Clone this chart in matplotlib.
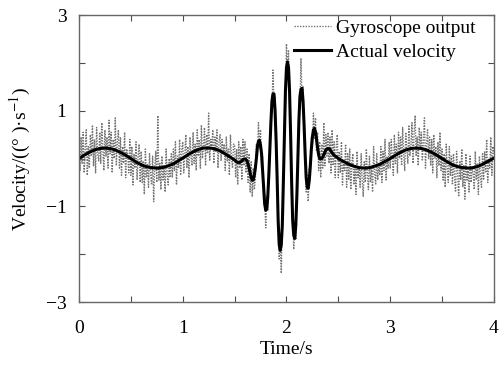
import numpy as np
import matplotlib.pyplot as plt

plt.rcParams['font.family'] = ['Liberation Serif', 'DejaVu Serif']
plt.rcParams['mathtext.fontset'] = 'stix'

# actual velocity: 0-1.5 s every 0.05 s, 1.51-2.50 s every 0.01 s, 2.55-4.0 s every 0.05 s
act_head = [0.00, 0.07, 0.13, 0.18, 0.21, 0.22, 0.21, 0.18, 0.13, 0.07,
            0.00, -0.07, -0.13, -0.17, -0.19, -0.20, -0.19, -0.16, -0.12, -0.06,
            0.01, 0.08, 0.14, 0.19, 0.22, 0.22, 0.21, 0.17, 0.11, 0.04, -0.03]
act_burst = [-0.05, -0.07, -0.08, -0.08, -0.08, -0.07, -0.05, -0.02, -0.01,
             -0.01, -0.02, -0.05, -0.12, -0.20, -0.30, -0.40, -0.45, -0.45, -0.35,
             -0.20, 0.00, 0.25, 0.36, 0.38, 0.28, 0.10, -0.25, -0.60, -0.95,
             -1.08, -1.05, -0.80, -0.35, 0.20, 0.75, 1.20, 1.35, 1.35, 1.00,
             0.40, -0.40, -1.30, -1.80, -1.92, -1.80, -1.40, -0.50, 0.50, 1.40,
             1.90, 2.02, 1.90, 1.40, 0.50, -0.50, -1.30, -1.60, -1.67, -1.40,
             -0.80, 0.00, 0.80, 1.30, 1.45, 1.47, 1.20, 0.70, 0.10, -0.40,
             -0.60, -0.62, -0.45, -0.15, 0.20, 0.45, 0.60, 0.63, 0.55, 0.40,
             0.22, 0.08, 0.00, -0.01, 0.00, 0.03, 0.08, 0.13, 0.18, 0.20,
             0.21, 0.21, 0.19, 0.15, 0.12, 0.09, 0.07, 0.05, 0.04, 0.02, 0.00]
act_tail = [-0.06, -0.12, -0.16, -0.19, -0.20, -0.19, -0.16, -0.12, -0.06,
            0.00, 0.07, 0.13, 0.18, 0.21, 0.22, 0.21, 0.18, 0.13, 0.07,
            0.00, -0.07, -0.13, -0.17, -0.19, -0.20, -0.19, -0.16, -0.11, -0.05, 0.01]

# gyroscope output, every 0.01 s from 0 to 4 s (one row = 0.1 s)
gyro = [
    0.30, -0.25, 0.45, -0.10, 0.55, -0.30, 0.20, 0.60, -0.35, 0.25,
    -0.20, 0.50, 0.05, 0.70, -0.15, 0.40, -0.30, 0.65, 0.10, -0.05,
    0.55, -0.10, 0.75, 0.20, -0.25, 0.60, 0.05, 0.45, -0.20, 0.80,
    0.10, 0.55, -0.30, 0.40, 0.00, 0.85, -0.15, 0.35, 0.60, -0.20,
    0.45, -0.35, 0.25, -0.10, 0.55, -0.40, 0.20, 0.05, -0.30, 0.40,
    -0.35, 0.25, -0.55, 0.10, -0.20, 0.35, -0.45, 0.05, 0.30, -0.50,
    0.15, -0.50, -0.05, -0.75, 0.20, -0.40, -0.10, -0.60, 0.10, -0.35,
    -0.55, 0.05, -0.90, -0.20, 0.15, -0.50, 0.90, -0.45, -0.10, -0.65,
    0.05, -0.45, -0.15, -0.70, 0.20, -0.35, -0.55, 0.00, -0.40, 0.10,
    -0.40, 0.20, -0.25, 0.35, -0.55, 0.05, -0.20, 0.40, -0.35, 0.15,
    0.35, -0.30, 0.10, 0.50, -0.20, 0.25, -0.40, 0.45, 0.05, -0.15,
    0.55, -0.10, 0.30, -0.25, 0.60, 0.05, 0.40, -0.20, 0.70, 0.00,
    0.25, 0.65, -0.15, 0.50, 0.10, 0.95, -0.05, 0.40, 0.20, 0.60,
    -0.10, 0.45, 0.15, 0.60, -0.20, 0.35, 0.50, -0.05, 0.40, 0.10,
    0.30, -0.25, 0.45, -0.05, 0.20, -0.35, 0.50, 0.00, -0.20, 0.30,
    0.30, -0.40, 0.20, -0.55, 0.35, -0.20, 0.25, -0.45, 0.40, -0.15,
    0.35, -0.30, 0.20, -0.50, 0.10, -0.70, -0.05, -0.80, -0.20, -0.65,
    -0.45, 0.30, 0.05, 0.75, 0.20, 0.60, -0.20, 0.05, -0.85, -0.75,
    -1.45, -0.80, -1.10, -0.05, -0.05, 1.05, 0.95, 1.85, 1.10, 1.30,
    0.70, -0.70, -1.05, -2.10, -1.65, -2.40, -1.10, -0.80, 0.80, 1.10,
    2.40, 1.75, 2.25, 1.10, 0.80, -0.75, -1.05, -1.90, -1.40, -1.70,
    -0.55, -0.30, 1.05, 1.05, 2.10, 1.20, 1.50, 0.45, 0.40, -0.70,
    -0.35, -0.90, -0.20, -0.40, 0.45, 0.25, 0.95, 0.40, 0.85, 0.15,
    0.55, -0.25, 0.35, -0.40, 0.30, -0.20, 0.75, -0.15, 0.50, 0.05,
    0.55, -0.10, 0.45, -0.30, 0.60, -0.15, 0.35, -0.40, 0.25, 0.50,
    -0.40, 0.15, -0.30, 0.35, -0.55, -0.05, -0.25, 0.30, -0.60, 0.10,
    -0.45, 0.20, -0.65, -0.10, 0.10, -0.55, -0.20, -0.75, 0.15, -0.40,
    -0.15, -0.60, 0.10, -0.45, -0.80, -0.05, -0.50, 0.20, -0.35, -0.65,
    0.05, -0.50, -0.20, -0.70, 0.25, -0.30, -0.55, 0.10, -0.45, -0.10,
    -0.35, 0.25, -0.50, 0.15, -0.25, 0.40, -0.45, 0.05, -0.20, 0.35,
    -0.20, 0.40, 0.05, -0.35, 0.50, -0.10, 0.30, -0.30, 0.55, 0.00,
    0.45, -0.15, 0.65, 0.10, -0.25, 0.55, 0.20, -0.10, 0.70, 0.05,
    0.30, 0.75, -0.10, 0.50, 0.90, 0.05, 0.45, -0.15, 0.65, 0.20,
    0.55, -0.05, 0.40, 0.85, -0.20, 0.30, 0.60, 0.00, 0.45, -0.15,
    0.40, -0.30, 0.50, 0.00, 0.25, -0.40, 0.35, -0.15, 0.55, -0.25,
    0.20, -0.45, 0.10, -0.60, 0.30, -0.20, -0.50, 0.25, -0.35, 0.05,
    -0.55, 0.10, -0.40, -0.70, 0.15, -0.30, -0.80, -0.05, -0.45, 0.20,
    -0.60, -0.15, -0.85, 0.10, -0.45, -0.25, -0.70, 0.05, -0.50, -0.20,
    -0.30, -0.65, 0.15, -0.45, -0.10, -0.75, 0.05, -0.40, -0.60, 0.10,
    -0.45, 0.15, -0.30, 0.40, -0.50, 0.00, -0.20, 0.45, -0.35, 0.25,
    0.10]

t_gyro = np.round(np.arange(len(gyro)) * 0.01, 2)
t_act = np.concatenate([np.arange(31) * 0.05,
                        1.51 + np.arange(100) * 0.01,
                        2.55 + np.arange(30) * 0.05])
act = act_head + act_burst + act_tail

fig = plt.figure(figsize=(5.03, 3.67), dpi=100)
ax = fig.add_axes([0.157, 0.177, 0.825, 0.782])

ax.plot(t_gyro, gyro, color='0.45', lw=1.0, ls=(0, (1, 1)), label='Gyroscope output')
ax.plot(t_act, act, color='black', lw=2.2, label='Actual velocity')

ax.set_xlim(0, 4)
ax.set_ylim(-3, 3)
ax.set_xticks([0, 1, 2, 3, 4])
ax.set_xticks([0.5, 1.5, 2.5, 3.5], minor=True)
ax.set_yticks([-3, -1, 1, 3])
ax.set_yticklabels(['\u22123', '\u22121', '1', '3'])
ax.set_yticks([-2, 0, 2], minor=True)
ax.tick_params(which='both', direction='in', top=True, right=True,
               length=4, width=0.8, labelsize=14, color='0.3')
ax.tick_params(axis='x', pad=13)
ax.tick_params(axis='y', pad=9)
for s in ax.spines.values():
    s.set_color('0.4')
    s.set_linewidth(1.0)

ax.set_xlabel('Time/s', fontsize=14, labelpad=3)
ax.set_ylabel('Velocity/((\u00b0 )\u00b7s$^{-1}$)', fontsize=14, labelpad=9)

ax.legend(loc='upper right', frameon=False, fontsize=14, handlelength=1.9,
          handletextpad=0.3, labelspacing=0.32, borderaxespad=0.2,
          bbox_to_anchor=(0.985, 1.025))

fig.savefig('out.png', dpi=100)
